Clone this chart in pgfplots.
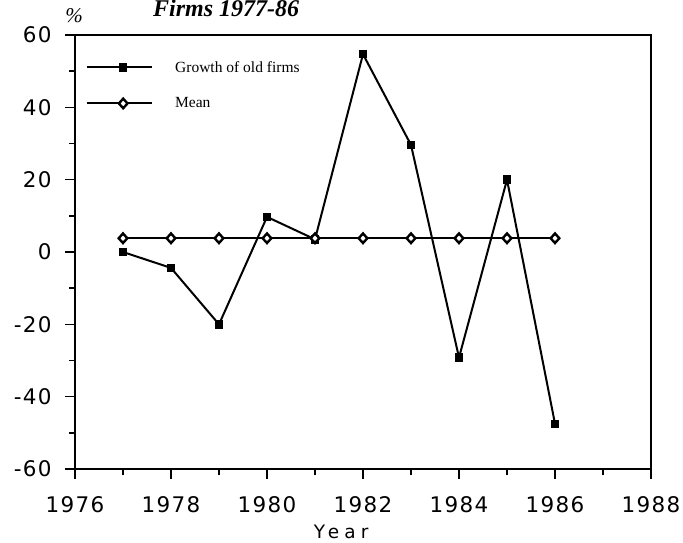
\documentclass[border=0pt]{standalone}
\usepackage{pgfplots}
\pgfplotsset{compat=1.18}
\usepackage{fontspec}
\setmainfont{Liberation Serif}
\newfontfamily\tickfont[LetterSpace=6]{DejaVu Sans}
\newfontfamily\yearfont[LetterSpace=28]{DejaVu Sans}
\begin{document}
\begin{tikzpicture}[x=1pt,y=1pt]
\begin{axis}[
  at={(75pt,73pt)}, anchor=south west,
  scale only axis, width=576pt, height=434pt,
  xmin=1976, xmax=1988, ymin=-60, ymax=60,
  xtick={1976,1978,...,1988}, ytick={-60,-40,...,60},
  minor x tick num=1, minor y tick num=1,
  tick pos=left,
  tick align=outside, major tick length=10pt, minor tick length=6pt,
  axis line style={line width=2pt},
  every tick/.style={black, line width=1.6pt},
  /pgf/number format/assume math mode=true,
  /pgf/number format/1000 sep={},
  tick label style={font=\tickfont\fontsize{21.5}{24}\selectfont},
  xticklabel style={yshift=-14pt},
  yticklabel style={xshift=-10pt},
  xlabel={Year},
  xlabel style={font=\yearfont\fontsize{18.5}{20}\selectfont, at={(rel axis cs:0.462,0)}, anchor=base, yshift=-69pt},
  legend style={draw=none, fill=none, at={(rel axis cs:0,1)}, anchor=north west, xshift=8pt, yshift=-22pt,
     font=\fontsize{15.5}{18}\selectfont, row sep=20pt, legend cell align=left,
     /tikz/every odd column/.append style={column sep=20pt}},
  legend image code/.code={\draw[mark repeat=2, mark phase=2, #1] plot coordinates {(0pt,0pt) (36pt,0pt) (65pt,0pt)};},
]
\addplot[black, line width=2pt, mark=square*, mark size=3.2pt, mark options={solid}] coordinates {
(1977,0) (1978,-4.4) (1979,-20) (1980,9.7) (1981,3.5) (1982,54.7) (1983,29.6) (1984,-29.2) (1985,20) (1986,-47.5)};
\addlegendentry{Growth of old firms}
\addplot[black, line width=2pt, mark=diamond*, mark size=4.8pt, mark options={fill=white, line width=2.4pt, xscale=1.2}] coordinates {
(1977,3.8) (1978,3.8) (1979,3.8) (1980,3.8) (1981,3.8) (1982,3.8) (1983,3.8) (1984,3.8) (1985,3.8) (1986,3.8)};
\addlegendentry{Mean}
\end{axis}
\node[anchor=base west, font=\bfseries\itshape\fontsize{24}{28}\selectfont, inner sep=0pt] at (153pt,525pt) {Firms 1977-86};
\node[anchor=base, font=\itshape\fontsize{21}{24}\selectfont, inner sep=0pt] at (74pt,519pt) {\%};
\pgfresetboundingbox
\useasboundingbox (0,0) rectangle (683pt,542pt);
\end{tikzpicture}
\end{document}
